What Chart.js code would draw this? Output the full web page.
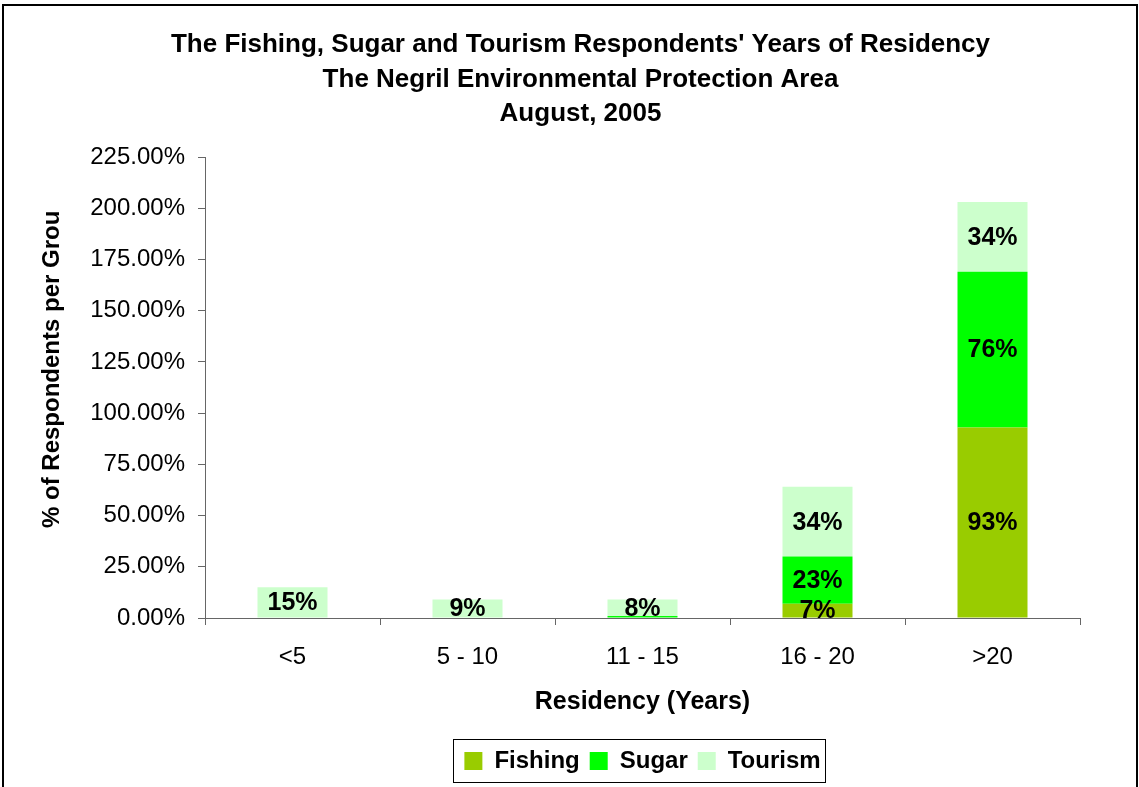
<!DOCTYPE html>
<html>
<head>
<meta charset="utf-8">
<script src="https://cdn.jsdelivr.net/npm/chart.js@4.4.1/dist/chart.umd.min.js"></script>
<style>
	html, body { margin: 0; padding: 0; background: #fff; }
	#wrap { width: 1139px; height: 787px; }
</style>
</head>
<body>
<div id="wrap"><canvas id="residency-chart" width="1139" height="787"></canvas></div>
<script>
const categories = ['<5', '5 - 10', '11 - 15', '16 - 20', '>20'];
const fishing = [0, 0, 0, 7, 93];
const sugar = [0, 0, 1, 23, 76];
const tourism = [15, 9, 8, 34, 34];

const titleLines = [
	"The Fishing, Sugar and Tourism Respondents' Years of Residency",
	'The Negril Environmental Protection Area',
	'August, 2005',
];
const yTitle = '% of Respondents per Group';
const xTitle = 'Residency (Years)';

const FONT = "'Liberation Sans', Arial, sans-serif";

// outer frame of the chart
const framePlugin = {
	id: 'frame',
	beforeDraw(chart) {
		const { ctx } = chart;
		ctx.save();
		ctx.fillStyle = '#fff';
		ctx.fillRect(0, 0, chart.width, chart.height);
		ctx.strokeStyle = '#000';
		ctx.lineWidth = 2;
		ctx.strokeRect(3, 5, chart.width - 5, chart.height + 20);
		ctx.restore();
	},
};

// value labels in the middle of each segment
const segmentLabels = {
	id: 'segmentLabels',
	afterDatasetsDraw(chart) {
		const { ctx } = chart;
		ctx.save();
		ctx.font = `bold 25px ${FONT}`;
		ctx.fillStyle = '#000';
		ctx.textAlign = 'center';
		ctx.textBaseline = 'middle';
		chart.data.datasets.forEach((ds, i) => {
			const meta = chart.getDatasetMeta(i);
			meta.data.forEach((bar, j) => {
				const v = ds.data[j];
				if (v < 5) {
					return;
				}
				ctx.fillText(`${v}%`, bar.x, (bar.y + bar.base) / 2 + 1);
			});
		});
		ctx.restore();
	},
};

// clipped rotated y title and legend border
const extras = {
	id: 'extras',
	afterDraw(chart) {
		const { ctx } = chart;
		ctx.save();
		ctx.beginPath();
		ctx.rect(0, 212, 200, 500);
		ctx.clip();
		ctx.translate(52, 528);
		ctx.rotate(-Math.PI / 2);
		ctx.font = `bold 24px ${FONT}`;
		ctx.fillStyle = '#000';
		ctx.textAlign = 'left';
		ctx.textBaseline = 'middle';
		ctx.fillText(yTitle, 0, 0);
		ctx.restore();

		const lg = chart.legend;
		const boxes = lg.legendHitBoxes;
		if (boxes && boxes.length) {
			const first = boxes[0];
			const last = boxes[boxes.length - 1];
			ctx.save();
			ctx.strokeStyle = '#000';
			ctx.lineWidth = 1;
			ctx.strokeRect(
				Math.round(first.left - 11) + 0.5,
				Math.round(lg.top) + 0.5,
				Math.round(last.left + last.width - first.left + 16),
				Math.round(lg.bottom - lg.top - 1)
			);
			ctx.restore();
		}
	},
};

new Chart(document.getElementById('residency-chart'), {
	type: 'bar',
	data: {
		labels: categories,
		datasets: [
			{ label: 'Fishing', data: fishing, backgroundColor: '#99CC00' },
			{ label: 'Sugar', data: sugar, backgroundColor: '#00FF00' },
			{ label: 'Tourism', data: tourism, backgroundColor: '#CCFFCC' },
		],
	},
	options: {
		responsive: false,
		animation: false,
		devicePixelRatio: 1,
		layout: { padding: { left: 22, right: 0, top: 0, bottom: 4 } },
		datasets: {
			bar: { categoryPercentage: 1, barPercentage: 0.4, borderWidth: 0 },
		},
		scales: {
			x: {
				stacked: true,
				afterFit(scale) { scale.height = 121; },
				grid: { display: true, drawOnChartArea: false, drawTicks: true, tickLength: 7, color: '#666', offset: true },
				border: { display: true, color: '#666', width: 1 },
				ticks: { color: '#000', padding: 18, font: { family: FONT, size: 24 } },
				title: {
					display: true,
					text: xTitle,
					color: '#000',
					font: { family: FONT, size: 25, weight: 'bold' },
					padding: { top: 0, bottom: 22 },
				},
			},
			y: {
				stacked: true,
				min: 0,
				max: 225,
				afterFit(scale) { scale.width = 183; },
				grid: { display: true, drawOnChartArea: false, drawTicks: true, tickLength: 7, color: '#666' },
				border: { display: true, color: '#666', width: 1 },
				ticks: {
					stepSize: 25,
					color: '#000',
					padding: 13,
					font: { family: FONT, size: 24 },
					callback: (v) => `${v.toFixed(2)}%`,
				},
			},
			// empty right-hand gutter so the title centres like the original
			gutter: {
				type: 'linear',
				position: 'right',
				min: 0,
				max: 225,
				afterFit(scale) { scale.width = 59; },
				grid: { display: false, drawTicks: false },
				border: { display: false },
				ticks: { display: false },
			},
		},
		plugins: {
			title: {
				display: true,
				text: titleLines,
				color: '#000',
				font: { family: FONT, size: 26, weight: 'bold', lineHeight: 34.5 / 26 },
				padding: { top: 28, bottom: 25.5 },
			},
			legend: {
				position: 'bottom',
				fullSize: false,
				labels: {
					color: '#000',
					boxWidth: 18,
					boxHeight: 18,
					padding: 10,
					font: { family: FONT, size: 24, weight: 'bold' },
				},
			},
			tooltip: { enabled: false },
		},
	},
	plugins: [framePlugin, segmentLabels, extras],
});
</script>
</body>
</html>
